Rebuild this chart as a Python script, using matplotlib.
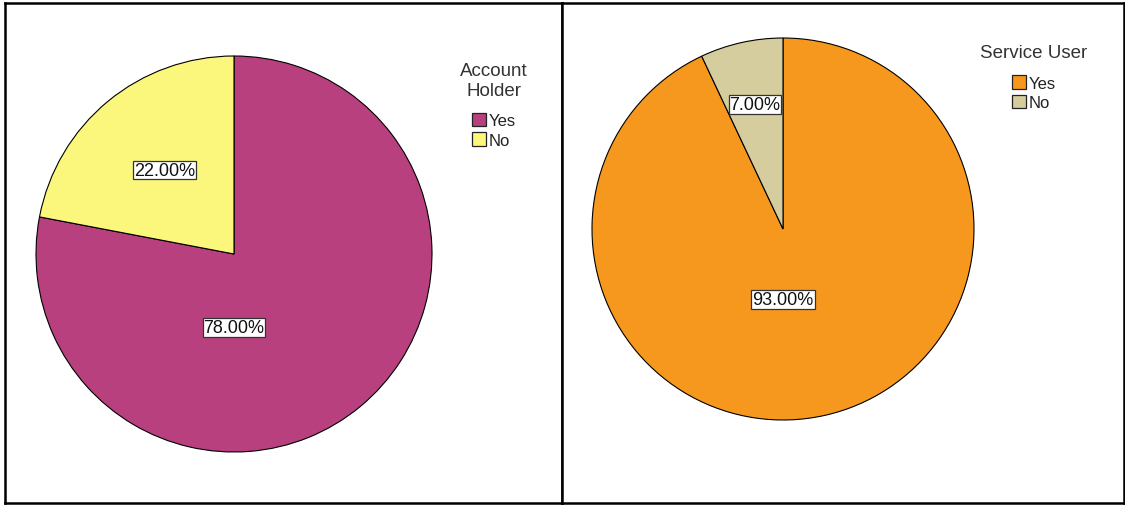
import numpy as np
import matplotlib.pyplot as plt
from matplotlib.patches import Patch

plt.rcParams['font.family'] = ['Liberation Sans', 'DejaVu Sans']

categories = ['Yes', 'No']
account_holder = [78.0, 22.0]
service_user = [93.0, 7.0]

account_colors = ['#B9407E', '#FAF77C']
service_colors = ['#F7981E', '#D5CD9E']

W, H = 1125, 506
fig = plt.figure(figsize=(W / 100, H / 100), dpi=100)


def draw_panel(x0, x1, y0, y1, cx, cy, r, values, colors, small_dist):
    # axes spans the framed panel, data units scaled so the pie has radius 1
    ax = fig.add_axes([x0 / W, 1 - y1 / H, (x1 - x0) / W, (y1 - y0) / H])
    wedges, _, pcts = ax.pie(values, colors=colors, startangle=90, counterclock=False,
                             autopct='%.2f%%', pctdistance=small_dist, frame=True,
                             wedgeprops=dict(edgecolor='black', linewidth=0.8),
                             textprops=dict(fontsize=13, color='#111111'))
    ax.set_aspect('auto')
    ax.set_xlim((x0 - cx) / r, (x1 - cx) / r)
    ax.set_ylim(-(y1 - cy) / r, (cy - y0) / r)
    ax.set_xticks([])
    ax.set_yticks([])
    for s in ax.spines.values():
        s.set_visible(True)
        s.set_linewidth(1.8)
        s.set_color('black')
    big = int(np.argmax(values))
    # large slice label sits straight below the centre
    pcts[big].set_position((0, -0.37))
    for t in pcts:
        t.set_bbox(dict(boxstyle='square,pad=0.05', fc='white', ec='#333333', lw=0.9))
    return ax


def add_legend(title, colors, x, y):
    handles = [Patch(facecolor=c, edgecolor='#222222', linewidth=0.9, label=l)
               for c, l in zip(colors, categories)]
    leg = fig.legend(handles=handles, title=title, loc='upper center',
                     bbox_to_anchor=(x / W, 1 - y / H), frameon=False,
                     fontsize=12, title_fontsize=13.5, handlelength=0.85, handleheight=0.85,
                     handletextpad=0.15, labelspacing=0.25, borderpad=0)
    # extra room between the title and the entries
    leg._legend_box.sep = 10
    leg.get_title().set_multialignment('center')
    leg.get_title().set_color('#333333')
    for t in leg.get_texts():
        t.set_color('#222222')
    return leg


draw_panel(5, 562, 4, 504, 234, 255, 198, account_holder, account_colors, 0.55)
add_legend('Account\nHolder', account_colors, 494, 55)

draw_panel(562, 1124, 4, 504, 783, 230, 191, service_user, service_colors, 0.67)
add_legend('Service User', service_colors, 1034, 37)

fig.savefig('out.png', dpi=100)
